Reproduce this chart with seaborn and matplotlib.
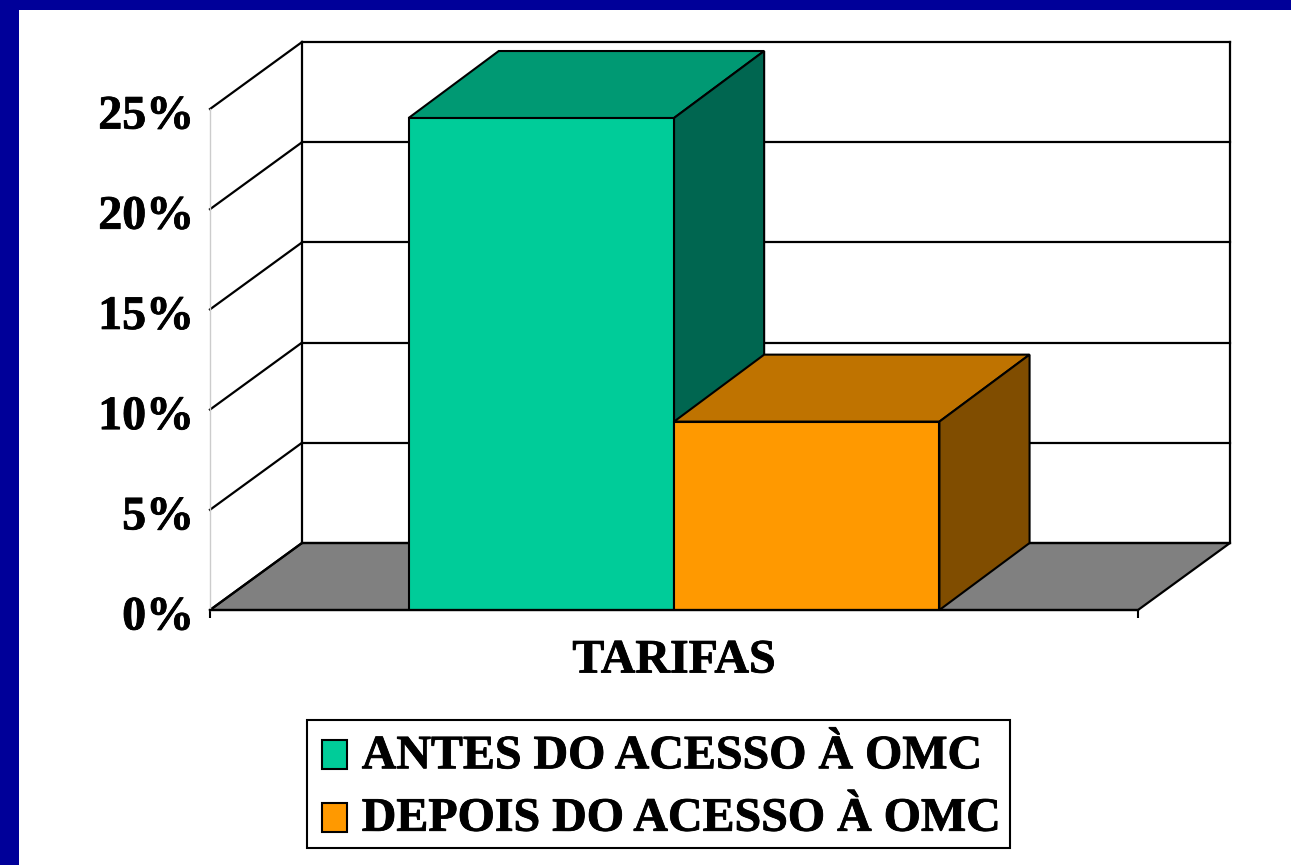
import pandas as pd
import matplotlib
matplotlib.use("Agg")
import matplotlib.pyplot as plt
import matplotlib.transforms as mtrans
import matplotlib.patheffects as pe
import seaborn as sns
from matplotlib.patches import Polygon, Rectangle

categories = ["TARIFAS"]
series_names = ["ANTES DO ACESSO À OMC", "DEPOIS DO ACESSO À OMC"]
values = [24.55, 9.4]
y_ticks = [0, 5, 10, 15, 20, 25]
y_labels = ["0%", "5%", "10%", "15%", "20%", "25%"]

front_colors = ["#00CC99", "#FF9900"]
top_colors = ["#009973", "#BF7300"]
side_colors = ["#006650", "#804D00"]

W, H = 1291, 865
sns.set_style("white")
plt.rcParams['font.family'] = ['Liberation Serif', 'DejaVu Serif']
plt.rcParams['font.weight'] = 'bold'
plt.rcParams['text.color'] = 'black'
plt.rcParams['xtick.labelcolor'] = 'black'
plt.rcParams['ytick.labelcolor'] = 'black'

df = pd.DataFrame({"cat": categories * 2, "serie": series_names, "val": values})

fig = plt.figure(figsize=(W / 100, H / 100), dpi=100, facecolor="white")
# blue slide border, left and top only
fig.add_artist(Rectangle((0, 0), 19 / W, 1, transform=fig.transFigure, color="#000099", lw=0))
fig.add_artist(Rectangle((0, 1 - 10 / H), 1, 10 / H, transform=fig.transFigure, color="#000099", lw=0))

ax = fig.add_axes([210 / W, 1 - 610 / H, 928 / W, 501 / H])
ax.patch.set_alpha(0)
sns.barplot(data=df, x="cat", y="val", hue="serie", hue_order=series_names,
            palette=front_colors, width=0.572, saturation=1, gap=0,
            edgecolor="black", linewidth=1.5, ax=ax, zorder=5)

ax.set_xlim(-0.5, 0.5)
ax.set_ylim(0, 25)

# depth of the fake 3d box, in data units
dx = 92 / 928
dy = 67 / (501 / 25)
lw = 1.6
line_kw = dict(color="black", lw=lw, clip_on=False, solid_capstyle="projecting")

# floor
ax.add_patch(Polygon([(-0.5, 0), (-0.5 + dx, dy), (0.5 + dx, dy), (0.5, 0)], closed=True,
                     facecolor="#808080", edgecolor="black", lw=lw, clip_on=False, zorder=1))
# walls and grid
for t in y_ticks:
    ax.plot([-0.5, -0.5 + dx], [t, t + dy], zorder=2, **line_kw)
    ax.plot([-0.5 + dx, 0.5 + dx], [t + dy, t + dy], zorder=2, **line_kw)
ax.plot([-0.5 + dx, -0.5 + dx], [dy, 25 + dy], zorder=2, **line_kw)
ax.plot([0.5 + dx, 0.5 + dx], [dy, 25 + dy], zorder=2, **line_kw)

# top and side of each bar, taken from the bars seaborn drew
bars = [p for c in ax.containers for p in c]
bar_dx = dx * 0.98
for i, b in enumerate(bars):
    x0, x1 = b.get_x(), b.get_x() + b.get_width()
    top = b.get_height()
    ax.add_patch(Polygon([(x0, top), (x0 + bar_dx, top + dy), (x1 + bar_dx, top + dy), (x1, top)],
                         closed=True, facecolor=top_colors[i], edgecolor="black", lw=1.5,
                         clip_on=False, zorder=3 + i * 0.5))
    ax.add_patch(Polygon([(x1, 0), (x1 + bar_dx, dy), (x1 + bar_dx, top + dy), (x1, top)],
                         closed=True, facecolor=side_colors[i], edgecolor="black", lw=1.5,
                         clip_on=False, zorder=3 + i * 0.5))

for s in ["top", "right"]:
    ax.spines[s].set_visible(False)
ax.spines["left"].set_color("#cccccc")
ax.spines["left"].set_linewidth(1)
ax.spines["bottom"].set_color("black")
ax.spines["bottom"].set_linewidth(lw)
ax.spines["bottom"].set_zorder(6)

ax.set_xlabel("")
ax.set_ylabel("")
ax.set_yticks(y_ticks)
ax.set_yticklabels(y_labels, fontsize=34.5, fontweight="bold", color="black")
ax.tick_params(axis="y", length=0, pad=11.5)
# y labels sit a little under the tick position
shift = mtrans.ScaledTranslation(0, -2.5 / 100, fig.dpi_scale_trans)
for lab in ax.get_yticklabels():
    lab.set_transform(lab.get_transform() + shift)
ax.set_xticks([0])
ax.set_xticklabels(categories, fontsize=34.5, fontweight="bold", color="black")
ax.tick_params(axis="x", which="major", length=0, pad=20.5)
ax.set_xticks([-0.5, 0.5], minor=True)
ax.tick_params(axis="x", which="minor", bottom=True, length=6, width=1.5, color="black")

handles, labels = ax.get_legend_handles_labels()
ax.legend(handles, labels, loc="center", bbox_to_anchor=(658.5 / W, 1 - 784 / H),
          bbox_transform=fig.transFigure, fontsize=34.5, frameon=True,
          fancybox=False, edgecolor="black", framealpha=1, handlelength=0.53,
          handleheight=0.55, handletextpad=0.36, labelspacing=0.385, borderpad=0.23,
          borderaxespad=0, labelcolor="black")
leg = ax.get_legend()
leg.get_frame().set_linewidth(1.5)
leg.set_zorder(10)

# nudge legend rows down and swatches right, the frame stays put
for p in leg.get_patches():
    p.set_x(p.get_x() + 3)
    p.set_y(p.get_y() - 5)
for t in leg.get_texts():
    t.set_position((1.5, -3.5))

# the reference lettering is a bit heavier than the font's bold
heavy = [pe.withStroke(linewidth=0.6, foreground="black")]
for t in ax.get_yticklabels() + ax.get_xticklabels() + leg.get_texts():
    t.set_path_effects(heavy)

fig.savefig("out.png", dpi=100)
